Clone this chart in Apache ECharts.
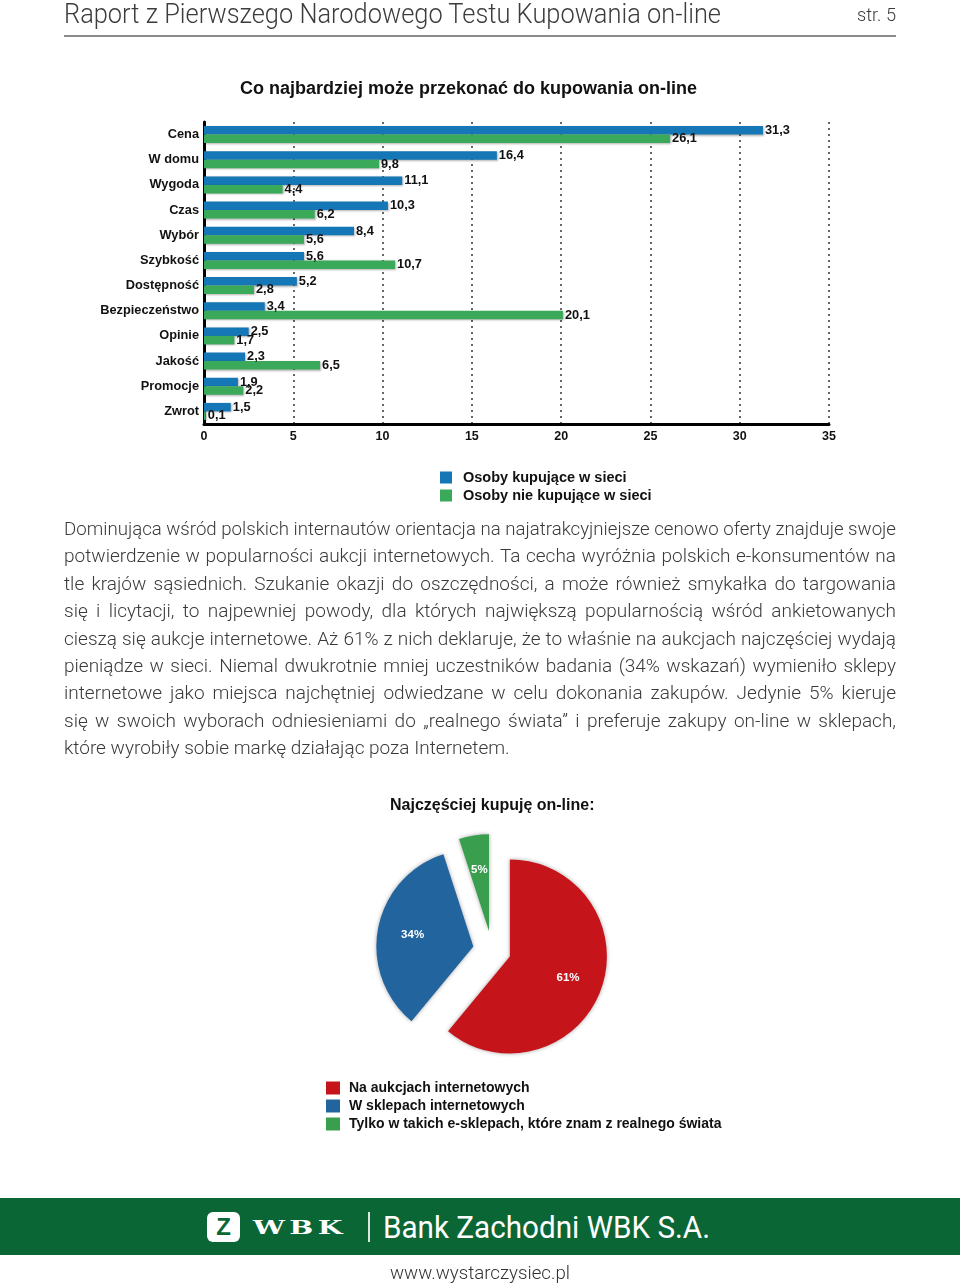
<!DOCTYPE html>
<html><head><meta charset="utf-8">
<script src="https://cdn.jsdelivr.net/npm/echarts@6/dist/echarts.min.js"></script>
<style>
html,body{margin:0;padding:0;background:#fff;}
#page{position:relative;width:960px;height:1285px;overflow:hidden;font-family:Roboto,'Liberation Sans',sans-serif;background:#fff;}
.abs{position:absolute;white-space:nowrap;}
#chart{position:absolute;left:0;top:0;width:960px;height:1285px;}
#hdr{left:64px;top:0px;font-size:28px;line-height:28px;font-weight:300;color:#3c3c3c;}
#pg{left:857px;top:5px;font-size:18px;line-height:20px;font-weight:300;color:#3c3c3c;}
#rule{position:absolute;left:64px;top:35px;width:832px;height:2px;background:#8c8c8c;}
#para{position:absolute;left:64px;top:515px;width:832px;font-size:19px;line-height:27.4px;font-weight:300;color:#3a3a3a;}
.ln{white-space:nowrap;height:27.4px;text-align:justify;text-align-last:justify;}
.ln.last{text-align:left;text-align-last:left;}
#band{position:absolute;left:0;top:1198px;width:960px;height:57px;background:#0b6636;}
#logo{position:absolute;left:207px;top:1212px;width:33px;height:30px;background:#fff;border-radius:6px;color:#0b6636;font:bold 24px/30px 'Liberation Sans',sans-serif;text-align:center;}
#wbk{left:253px;top:1217px;font-family:'DejaVu Serif',serif;font-weight:bold;font-size:19px;line-height:20px;letter-spacing:3px;color:#fff;}
#sep{position:absolute;left:368px;top:1212px;width:1.5px;height:30px;background:rgba(255,255,255,0.85);}
#bank{left:383px;top:1212px;font-size:31px;line-height:31px;font-weight:400;color:#fff;}
#url{left:390px;top:1263px;font-size:19px;line-height:20px;font-weight:300;color:#333;}
</style></head>
<body>
<div id="page">
  <div id="chart"></div>
  <div id="hdr" class="abs" data-w="657">Raport z Pierwszego Narodowego Testu Kupowania on-line</div>
  <div id="pg" class="abs" data-w="39">str. 5</div>
  <div id="rule"></div>
  <div id="para">
    <div class="ln"><span>Dominująca wśród polskich internautów orientacja na najatrakcyjniejsze cenowo oferty znajduje swoje</span></div>
    <div class="ln"><span>potwierdzenie w popularności aukcji internetowych. Ta cecha wyróżnia polskich e-konsumentów na</span></div>
    <div class="ln"><span>tle krajów sąsiednich. Szukanie okazji do oszczędności, a może również smykałka do targowania</span></div>
    <div class="ln"><span>się i licytacji, to najpewniej powody, dla których największą popularnością wśród ankietowanych</span></div>
    <div class="ln"><span>cieszą się aukcje internetowe. Aż 61% z nich deklaruje, że to właśnie na aukcjach najczęściej wydają</span></div>
    <div class="ln"><span>pieniądze w sieci. Niemal dwukrotnie mniej uczestników badania (34% wskazań) wymieniło sklepy</span></div>
    <div class="ln"><span>internetowe jako miejsca najchętniej odwiedzane w celu dokonania zakupów. Jedynie 5% kieruje</span></div>
    <div class="ln"><span>się w swoich wyborach odniesieniami do „realnego świata” i preferuje zakupy on-line w sklepach,</span></div>
    <div class="ln last"><span>które wyrobiły sobie markę działając poza Internetem.</span></div>
  </div>
  <div id="band"></div>
  <div id="logo">Z</div>
  <div id="wbk" class="abs" data-w="94">WBK</div>
  <div id="sep"></div>
  <div id="bank" class="abs" data-w="327">Bank Zachodni WBK S.A.</div>
  <div id="url" class="abs" data-w="180">www.wystarczysiec.pl</div>
</div>
<script>
// ---- data ----
const categories = ['Cena','W domu','Wygoda','Czas','Wybór','Szybkość','Dostępność','Bezpieczeństwo','Opinie','Jakość','Promocje','Zwrot'];
const buyers    = [31.3, 16.4, 11.1, 10.3, 8.4, 5.6, 5.2, 3.4, 2.5, 2.3, 1.9, 1.5];
const nonBuyers = [26.1,  9.8,  4.4,  6.2, 5.6, 10.7, 2.8, 20.1, 1.7, 6.5, 2.2, 0.1];
const barSeriesNames = ['Osoby kupujące w sieci', 'Osoby nie kupujące w sieci'];
const pieNames  = ['Na aukcjach internetowych', 'W sklepach internetowych', 'Tylko w takich e-sklepach, które znam z realnego świata'];
const pieValues = [61, 34, 5];

// ---- text fitting ----
document.querySelectorAll('[data-w]').forEach(el => {
  const w = el.getBoundingClientRect().width;
  const t = +el.dataset.w;
  el.style.transformOrigin = 'left center';
  el.style.transform = 'scaleX(' + (t / w) + ')';
});
document.querySelectorAll('#para .ln').forEach(ln => {
  if (ln.classList.contains('last')) return;
  const sp = ln.querySelector('span');
  ln.style.textAlign = 'left'; ln.style.textAlignLast = 'left';
  const w = sp.getBoundingClientRect().width;
  if (w > 832) {
    sp.style.display = 'inline-block';
    sp.style.transformOrigin = 'left center';
    sp.style.transform = 'scaleX(' + (832 / w) + ')';
  } else {
    ln.style.textAlign = ''; ln.style.textAlignLast = '';
  }
});

// ---- chart ----
const FF = "'Liberation Sans', Arial, sans-serif";
const fmt = p => String(p.value).replace('.', ',');
const barColors = ['#1577b5', '#3aa95a'];
const pieColors = ['#c6141b', '#22649e', '#3a9e4f'];
const PC = [492, 950];

const chart = echarts.init(document.getElementById('chart'), null, {renderer: 'canvas'});
chart.setOption({
  animation: false,
  title: [
    {text: 'Co najbardziej może przekonać do kupowania on-line', left: 240, top: 80, padding: 0,
     textStyle: {fontFamily: FF, fontWeight: 'bold', fontSize: 18, color: '#111'}},
    {text: 'Najczęściej kupuję on-line:', left: 390, top: 798, padding: 0,
     textStyle: {fontFamily: FF, fontWeight: 'bold', fontSize: 16, color: '#111'}}
  ],
  legend: [
    {data: barSeriesNames, orient: 'vertical', left: 440, top: 470, padding: 0, itemWidth: 12, itemHeight: 12, itemGap: 3,
     icon: 'rect', selectedMode: false,
     textStyle: {fontFamily: FF, fontWeight: 'bold', fontSize: 14.5, color: '#111', padding: [0, 0, 0, 6]}},
    {data: pieNames, orient: 'vertical', left: 326, top: 1081, padding: 0, itemWidth: 14, itemHeight: 13, itemGap: 4,
     icon: 'rect', selectedMode: false,
     textStyle: {fontFamily: FF, fontWeight: 'bold', fontSize: 14, color: '#111', padding: [0, 0, 0, 4]}}
  ],
  grid: {left: 204, top: 122, width: 625, height: 302},
  xAxis: {
    type: 'value', min: 0, max: 35, interval: 5,
    axisLine: {show: true, lineStyle: {color: '#000', width: 3}},
    axisTick: {show: false},
    axisLabel: {margin: 6, fontFamily: FF, fontWeight: 'bold', fontSize: 12.5, color: '#111'},
    splitLine: {show: true, lineStyle: {type: [2, 4], color: '#333', width: 1.5}}
  },
  yAxis: {
    type: 'category', data: categories, inverse: true,
    axisLine: {show: true, lineStyle: {color: '#000', width: 3}},
    axisTick: {show: false},
    axisLabel: {margin: 5, fontFamily: FF, fontWeight: 'bold', fontSize: 12.8, color: '#111'}
  },
  series: [
    {type: 'bar', name: barSeriesNames[0], data: buyers, barWidth: 8.5, barGap: '0%',
     itemStyle: {color: barColors[0], shadowColor: 'rgba(0,0,0,0.3)', shadowBlur: 2, shadowOffsetX: 1, shadowOffsetY: 1},
     label: {show: true, position: 'right', distance: 2, formatter: fmt, fontFamily: FF, fontWeight: 'bold', fontSize: 12.8, color: '#111'}},
    {type: 'bar', name: barSeriesNames[1], data: nonBuyers, barWidth: 8.5, barGap: '0%',
     itemStyle: {color: barColors[1], shadowColor: 'rgba(0,0,0,0.3)', shadowBlur: 2, shadowOffsetX: 1, shadowOffsetY: 1},
     label: {show: true, position: 'right', distance: 2, formatter: fmt, fontFamily: FF, fontWeight: 'bold', fontSize: 12.8, color: '#111'}},
    {type: 'pie', center: PC, radius: 97, startAngle: 90, clockwise: true,
     selectedMode: 'multiple', selectedOffset: 19,
     data: pieNames.map((n, i) => ({name: n, value: pieValues[i], selected: true, itemStyle: {color: pieColors[i]}})),
     itemStyle: {shadowBlur: 4, shadowColor: 'rgba(0,0,0,0.35)'},
     label: {show: true, position: 'inside', formatter: '{c}%', color: '#fff', fontFamily: FF, fontWeight: 'bold', fontSize: 11.5},
     labelLine: {show: false},
     emphasis: {disabled: true},
     labelLayout: function (p) {
       const r = p.labelRect;
       const cx = r.x + r.width / 2, cy = r.y + r.height / 2;
       return {dx: (cx - PC[0]) * 0.2, dy: (cy - PC[1]) * 0.2};
     }}
  ]
});
</script>
</body></html>
